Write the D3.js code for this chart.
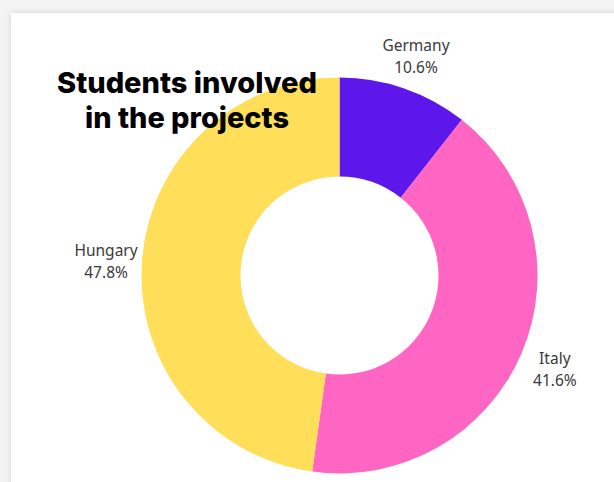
<!DOCTYPE html>
<html>
<head>
<meta charset="utf-8">
<script src="https://cdn.jsdelivr.net/npm/d3@7"></script>
<style>
  html, body { margin: 0; padding: 0; background: #f3f3f3; }
  svg { display: block; }
</style>
</head>
<body>
<svg id="chart" width="614" height="482"></svg>
<script>
// ---- data ----
const categories = ["Germany", "Italy", "Hungary"];
const percents = [10.6, 41.6, 47.8];
const colors = ["#5E17EB", "#FF66C4", "#FFDE59"];
const titleLines = ["Students involved", "in the projects"];

// ---- layout ----
const W = 614, H = 482;
const cx = 339.5, cy = 275.5;
const outerR = 198, innerR = 99, labelR = 234;

const svg = d3.select("#chart");

const defs = svg.append("defs");
const f = defs.append("filter").attr("id", "shadow")
  .attr("x", "-10%").attr("y", "-10%").attr("width", "130%").attr("height", "130%");
f.append("feDropShadow").attr("dx", 0).attr("dy", 0)
  .attr("stdDeviation", 3).attr("flood-color", "#000").attr("flood-opacity", 0.12);

svg.append("rect").attr("x", 0).attr("y", 0).attr("width", W).attr("height", H).attr("fill", "#f3f3f3");
svg.append("rect").attr("x", 11).attr("y", 13).attr("width", W + 40).attr("height", H + 40)
  .attr("fill", "#ffffff").attr("filter", "url(#shadow)");

const data = categories.map((c, i) => ({ name: c, value: percents[i], color: colors[i] }));

const pie = d3.pie().sort(null).value(d => d.value);
const arc = d3.arc().innerRadius(innerR).outerRadius(outerR);
const arcs = pie(data);

const g = svg.append("g").attr("transform", `translate(${cx},${cy})`);
g.selectAll("path.slice").data(arcs).join("path")
  .attr("class", "slice")
  .attr("d", arc)
  .attr("fill", d => d.data.color);

// labels
const fmt = d => d3.format(".1f")(d) + "%";
const lbl = g.selectAll("g.lbl").data(arcs).join("g").attr("class", "lbl")
  .attr("transform", d => {
    const a = (d.startAngle + d.endAngle) / 2;
    return `translate(${Math.sin(a) * labelR},${-Math.cos(a) * labelR})`;
  });
lbl.append("text")
  .attr("text-anchor", "middle")
  .attr("y", -3.5)
  .attr("font-family", "'Noto Sans', sans-serif")
  .attr("font-size", 15.5)
  .attr("fill", "#3a3a3a")
  .text(d => d.data.name);
lbl.append("text")
  .attr("text-anchor", "middle")
  .attr("y", 18.5)
  .attr("font-family", "'Noto Sans', sans-serif")
  .attr("font-size", 15.5)
  .attr("fill", "#3a3a3a")
  .text(d => fmt(d.data.value));

// title
const title = svg.append("g");
title.selectAll("text").data(titleLines).join("text")
  .attr("x", 187)
  .attr("y", (d, i) => 93.3 + i * 34.5)
  .attr("text-anchor", "middle")
  .attr("font-family", "Inter, 'Noto Sans', sans-serif")
  .attr("font-weight", 800)
  .attr("font-size", 29)
  .attr("fill", "#000")
  .attr("textLength", (d, i) => i === 0 ? 260 : 204)
  .attr("lengthAdjust", "spacingAndGlyphs")
  .text(d => d);
</script>
</body>
</html>
